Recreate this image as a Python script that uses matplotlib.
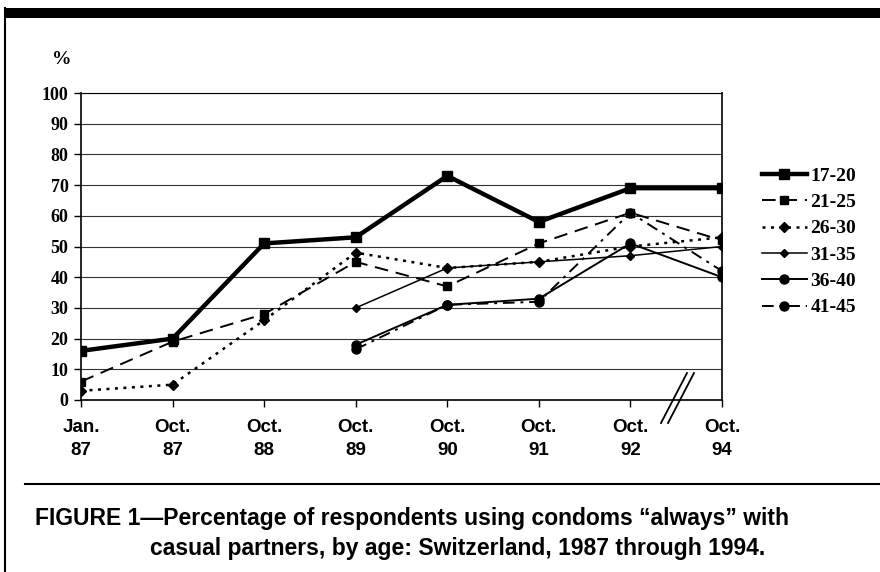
import numpy as np
import matplotlib.pyplot as plt
from matplotlib.lines import Line2D

# Datos
periodos = ['Jan.\n87', 'Oct.\n87', 'Oct.\n88', 'Oct.\n89', 'Oct.\n90', 'Oct.\n91', 'Oct.\n92', 'Oct.\n94']
nan = np.nan
g17_20 = [16, 20, 51, 53, 73, 58, 69, 69]
g21_25 = [6, 19, 28, 45, 37, 51, 61, 52]
g26_30 = [3, 5, 26, 48, 43, 45, 50, 53]
g31_35 = [nan, nan, nan, 30, 43, 45, 47, 50]
g36_40 = [nan, nan, nan, 18, 31, 33, 51, 40]
g41_45 = [nan, nan, nan, 16.5, 31, 32, 61, 42]

x = np.arange(len(periodos))

serif = ['Liberation Serif', 'DejaVu Serif']
sans = ['Liberation Sans', 'DejaVu Sans']

fig = plt.figure(figsize=(8.8, 5.72), dpi=100)
ax = fig.add_axes([81 / 880, 1 - 400 / 572, (722 - 81) / 880, (400 - 93) / 572])

ax.plot(x, g17_20, '-', color='black', lw=3.2, marker='s', ms=6.5, label='17-20')
ax.plot(x, g21_25, color='black', lw=1.4, ls=(0, (7, 4)), marker='s', ms=6, label='21-25')
ax.plot(x, g26_30, color='black', lw=1.8, ls=(0, (1.2, 2.2)), marker='D', ms=5, label='26-30')
ax.plot(x, g31_35, '-', color='black', lw=1.1, marker='D', ms=4, label='31-35')
ax.plot(x, g36_40, '-', color='black', lw=1.4, marker='o', ms=6.5, label='36-40')
ax.plot(x, g41_45, color='black', lw=1.4, ls=(0, (6, 3, 1.5, 3)), marker='o', ms=6.5, label='41-45')

ax.set_xlim(0, 7)
ax.set_ylim(0, 100)
ax.set_yticks(np.arange(0, 101, 10))
ax.set_xticks(x)
ax.set_xticklabels(periodos, family=sans, weight='bold', fontsize=13.5, linespacing=1.45)
for t in ax.get_yticklabels():
    t.set_family(serif)
    t.set_weight('bold')
    t.set_fontsize(13)
ax.tick_params(direction='out', length=5, width=1, pad=4)
ax.tick_params(axis='x', pad=9)
ax.yaxis.grid(True, color='#333333', lw=0.8)
for s in ['left', 'bottom', 'right']:
    ax.spines[s].set_linewidth(1.2)
ax.spines['top'].set_linewidth(0.8)

leg = ax.legend(loc='upper left', bbox_to_anchor=((762 - 81) / 641, (400 - 167) / 307),
                frameon=False, handlelength=2.3, labelspacing=0.45, handletextpad=0.2,
                borderaxespad=0, borderpad=0,
                prop={'family': serif, 'weight': 'bold', 'size': 14})

# Simbolo "%"
fig.text(52 / 880, 1 - 60 / 572, '%', family=serif, weight='bold', fontsize=14,
         ha='left', va='center')

# Marcas de corte del eje
for dx in (0, 7):
    fig.add_artist(Line2D([(661 + dx) / 880, (687 + dx) / 880],
                          [1 - 423 / 572, 1 - 373 / 572], color='black', lw=1.3))

# Marco de la figura
fig.add_artist(plt.Rectangle((5 / 880, 1 - 18 / 572), 875 / 880, 10 / 572,
                             transform=fig.transFigure, color='black', lw=0))
fig.add_artist(Line2D([5 / 880, 5 / 880], [0, 1 - 8 / 572], color='black', lw=1.5))
fig.add_artist(Line2D([25 / 880, 1], [1 - 484 / 572, 1 - 484 / 572], color='black', lw=1.5))

# Pie de figura
fig.text(35 / 880, 1 - 518 / 572,
         'FIGURE 1\u2014Percentage of respondents using condoms \u201calways\u201d with',
         family=sans, weight='bold', fontsize=16.5, ha='left', va='center')
fig.text(150 / 880, 1 - 548 / 572,
         'casual partners, by age: Switzerland, 1987 through 1994.',
         family=sans, weight='bold', fontsize=16.5, ha='left', va='center')

plt.savefig('out.png', dpi=100)
